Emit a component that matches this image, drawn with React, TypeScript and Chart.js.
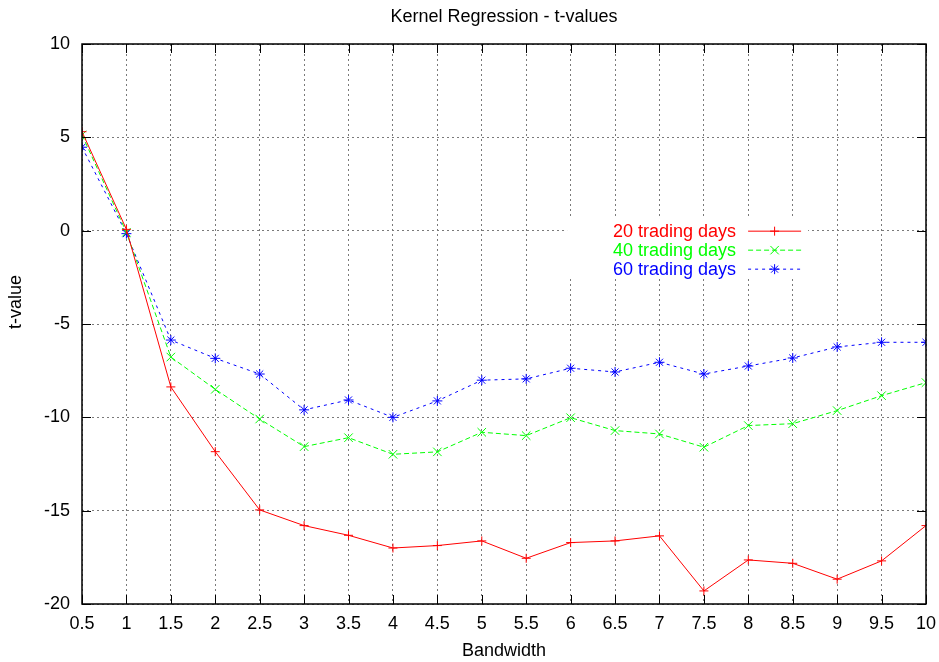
import React, { useEffect, useRef } from 'react';
import { Chart, registerables } from 'chart.js';

Chart.register(...registerables);

const titleText = 'Kernel Regression - t-values';
const xAxisLabel = 'Bandwidth';
const yAxisLabel = 't-value';

const bandwidth = [0.5, 1, 1.5, 2, 2.5, 3, 3.5, 4, 4.5, 5, 5.5, 6, 6.5, 7, 7.5, 8, 8.5, 9, 9.5, 10];
const days20 = [5.3, 0.07, -8.37, -11.84, -14.96, -15.8, -16.32, -17.0, -16.87, -16.62, -17.55, -16.71, -16.62, -16.35, -19.3, -17.64, -17.82, -18.67, -17.69, -15.8];
const days40 = [5.13, -0.09, -6.77, -8.5, -10.09, -11.57, -11.09, -11.98, -11.85, -10.8, -10.98, -10.02, -10.71, -10.89, -11.6, -10.44, -10.34, -9.64, -8.84, -8.14];
const days60 = [4.47, -0.16, -5.86, -6.84, -7.68, -9.6, -9.07, -10.0, -9.12, -8.01, -7.94, -7.37, -7.57, -7.05, -7.68, -7.25, -6.82, -6.23, -5.98, -5.98];

const seriesNames = ['20 trading days', '40 trading days', '60 trading days'];
const seriesColors = ['#ff0000', '#00ff00', '#0000ff'];

const FONT = '"Liberation Sans", Arial, Helvetica, sans-serif';

function drawMarker(ctx: CanvasRenderingContext2D, kind: string, x: number, y: number) {
  ctx.beginPath();
  if (kind === 'plus' || kind === 'star') {
    const r = kind === 'star' ? 5 : 4.5;
    ctx.moveTo(x - r, y); ctx.lineTo(x + r, y);
    ctx.moveTo(x, y - r); ctx.lineTo(x, y + r);
  }
  if (kind === 'x' || kind === 'star') {
    const d = kind === 'star' ? 3.5 : 4.2;
    ctx.moveTo(x - d, y - d); ctx.lineTo(x + d, y + d);
    ctx.moveTo(x - d, y + d); ctx.lineTo(x + d, y - d);
  }
  ctx.stroke();
}

const framePlugin = {
  id: 'gnuplotFrame',
  afterDraw(chart: any) {
    const { ctx, chartArea } = chart;
    const { left, right, top, bottom } = chartArea;
    const xs = chart.scales.x;
    const ys = chart.scales.y;
    ctx.save();
    // legend box (white background)
    const legendRight = left + (right - left) * 0.775;
    const legendTop = ys.getPixelForValue(0) - 13;
    ctx.fillStyle = '#ffffff';
    ctx.fillRect(legendRight - 169, legendTop, 241, 59);
    const kinds = ['plus', 'x', 'star'];
    const dashes = [[], [5, 3], [3, 4]];
    ctx.font = '18px ' + FONT;
    ctx.textAlign = 'right';
    ctx.textBaseline = 'middle';
    for (let i = 0; i < 3; i++) {
      const y = legendTop + 13 + i * 19;
      ctx.fillStyle = seriesColors[i];
      ctx.fillText(seriesNames[i], legendRight, y + 1);
      ctx.strokeStyle = seriesColors[i];
      ctx.lineWidth = 1;
      ctx.setLineDash(dashes[i]);
      ctx.beginPath();
      ctx.moveTo(legendRight + 12, y + 0.5);
      ctx.lineTo(legendRight + 65, y + 0.5);
      ctx.stroke();
      ctx.setLineDash([]);
      drawMarker(ctx, kinds[i], legendRight + 38.5, y + 0.5);
    }
    // border
    ctx.strokeStyle = '#000000';
    ctx.lineWidth = 1.5;
    ctx.setLineDash([]);
    ctx.beginPath();
    ctx.moveTo(left, top); ctx.lineTo(right, top); ctx.lineTo(right, bottom); ctx.lineTo(left, bottom); ctx.closePath();
    ctx.stroke();
    // inward ticks
    ctx.lineWidth = 1;
    ctx.beginPath();
    xs.ticks.forEach((t: any) => {
      const px = Math.round(xs.getPixelForValue(t.value)) + 0.5;
      ctx.moveTo(px, bottom); ctx.lineTo(px, bottom - 9);
      ctx.moveTo(px, top); ctx.lineTo(px, top + 9);
    });
    ys.ticks.forEach((t: any) => {
      const py = Math.round(ys.getPixelForValue(t.value)) + 0.5;
      ctx.moveTo(left, py); ctx.lineTo(left + 9, py);
      ctx.moveTo(right, py); ctx.lineTo(right - 9, py);
    });
    ctx.stroke();
    // texts
    ctx.fillStyle = '#000000';
    ctx.font = '18px ' + FONT;
    ctx.textAlign = 'center';
    ctx.textBaseline = 'middle';
    const cx = (left + right) / 2;
    ctx.fillText(titleText, cx, 17);
    ctx.fillText(xAxisLabel, cx, 651);
    ctx.translate(16, 302);
    ctx.rotate(-Math.PI / 2);
    ctx.fillText(yAxisLabel, 0, 0);
    ctx.restore();
  },
};

export default function App() {
  const ref = useRef<HTMLCanvasElement | null>(null);
  useEffect(() => {
    if (!ref.current) return;
    const mk = (vals: number[]) => bandwidth.map((x, i) => ({ x, y: vals[i] }));
    const chart = new Chart(ref.current, {
      type: 'line',
      data: {
        datasets: [
          {
            label: seriesNames[0], data: mk(days20), borderColor: seriesColors[0], backgroundColor: seriesColors[0],
            borderWidth: 1, pointStyle: 'cross', pointRadius: 4.5, pointBorderWidth: 1, fill: false, tension: 0,
          },
          {
            label: seriesNames[1], data: mk(days40), borderColor: seriesColors[1], backgroundColor: seriesColors[1],
            borderWidth: 1, borderDash: [5, 3], pointStyle: 'crossRot', pointRadius: 6, pointBorderWidth: 1, fill: false, tension: 0,
          },
          {
            label: seriesNames[2], data: mk(days60), borderColor: seriesColors[2], backgroundColor: seriesColors[2],
            borderWidth: 1, borderDash: [3, 4], pointStyle: 'star', pointRadius: 5, pointBorderWidth: 1, fill: false, tension: 0,
          },
        ],
      },
      options: {
        animation: false,
        responsive: false,
        layout: { padding: { left: 0, top: 44, right: 13, bottom: 0 } },
        plugins: { legend: { display: false }, title: { display: false }, tooltip: { enabled: false } },
        scales: {
          x: {
            type: 'linear', min: 0.5, max: 10,
            ticks: {
              stepSize: 0.5, autoSkip: false, maxRotation: 0, minRotation: 0, color: '#000', padding: 9,
              font: { family: FONT, size: 18 },
              callback: (v: any) => String(Math.round(Number(v) * 10) / 10),
            },
            grid: { color: '#7a7a7a', drawTicks: false, lineWidth: 1 },
            border: { display: false, dash: [2, 3] },
            afterFit: (s: any) => { s.height = 58; s.paddingRight = 0; s.paddingLeft = 0; },
          },
          y: {
            type: 'linear', min: -20, max: 10,
            ticks: { stepSize: 5, color: '#000', padding: 12, font: { family: FONT, size: 18 } },
            grid: { color: '#7a7a7a', drawTicks: false, lineWidth: 1 },
            border: { display: false, dash: [2, 3] },
            afterFit: (s: any) => { s.width = 82; },
          },
        },
      },
      plugins: [framePlugin],
    } as any);
    return () => chart.destroy();
  }, []);
  return (
    <div style={{ position: 'absolute', left: 0, top: 0, width: 939, height: 662, background: '#fff' }}>
      <canvas ref={ref} width={939} height={662} style={{ display: 'block' }} />
    </div>
  );
}
